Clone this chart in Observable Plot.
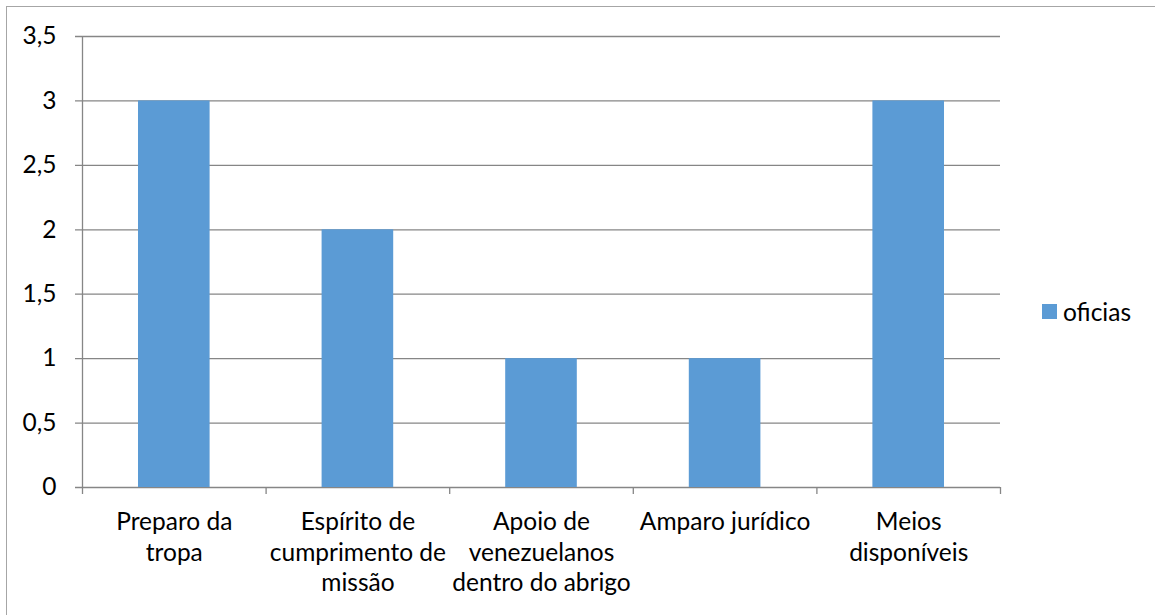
<!DOCTYPE html>
<html><head><meta charset="utf-8">
<script src="https://cdn.jsdelivr.net/npm/d3@7"></script>
<script src="https://cdn.jsdelivr.net/npm/@observablehq/plot@0.6"></script>
<style>
body{margin:0;background:#fff;font-family:Lato,"Open Sans",sans-serif}
#wrap{position:relative;width:1155px;height:615px;overflow:hidden;background:#fff}
#frame{position:absolute;left:6px;top:6px;width:1170px;height:630px;border-top:1.5px solid #a6a6a6;border-left:1.5px solid #a6a6a6}
#chart{position:absolute;left:0;top:0}
#legend{position:absolute;left:1042px;top:297px;display:flex;align-items:center;font-size:24.5px;color:#000}
#legend .sw{width:15px;height:15px;margin-right:6px}
</style></head><body>
<div id="wrap"><div id="frame"></div><div id="chart"></div><div id="legend"></div></div>
<script>
const categories = ["Preparo da\ntropa", "Espírito de\ncumprimento de\nmissão", "Apoio de\nvenezuelanos\ndentro do abrigo", "Amparo jurídico", "Meios\ndisponíveis"];
const oficias = [3, 2, 1, 1, 3];
const seriesName = "oficias";
const yTicks = [0, 0.5, 1, 1.5, 2, 2.5, 3, 3.5];
const separators = [0, 1, 2, 3, 4, 5];

const barColor = "#5B9BD5";
const gridColor = "#868686";
const data = categories.map((c, i) => ({i, category: c, value: oficias[i]}));
const fmt = d => String(d).replace(".", ",");
const half = 0.195; // half of bar width, in band units

const chart = Plot.plot({
  width: 1155, height: 615,
  marginLeft: 82, marginRight: 155, marginTop: 36, marginBottom: 128,
  style: {fontFamily: "Lato, 'Open Sans', sans-serif", fontSize: "24.5px", color: "#000", background: "transparent"},
  x: {type: "linear", domain: [0, categories.length], axis: null},
  y: {domain: [0, 3.5], axis: null},
  marks: [
    Plot.ruleY(yTicks, {x1: 0, x2: categories.length, y: d => d, stroke: gridColor, strokeWidth: 1.3, insetLeft: -7}),
    Plot.ruleX([0], {y1: 0, y2: 3.5, stroke: gridColor, strokeWidth: 1.3}),
    Plot.ruleX(separators, {x: d => d, y1: 0, y2: 0, stroke: gridColor, strokeWidth: 1.3, insetBottom: -7}),
    Plot.rectY(data, {x1: d => d.i + 0.5 - half, x2: d => d.i + 0.5 + half, y1: 0, y2: "value", fill: barColor}),
    Plot.text(yTicks, {x: 0, y: d => d, text: fmt, textAnchor: "end", dx: -26, fill: "#000", fontSize: 24.5}),
    Plot.text(data, {x: d => d.i + 0.5, y: 0, text: "category", lineAnchor: "top", dy: 21, lineHeight: 1.25, fill: "#000", fontSize: 24.5})
  ]
});
document.getElementById("chart").appendChild(chart);
const lg = document.getElementById("legend");
lg.innerHTML = `<div class="sw" style="background:${barColor}"></div><span>${seriesName}</span>`;
</script>
</body></html>
